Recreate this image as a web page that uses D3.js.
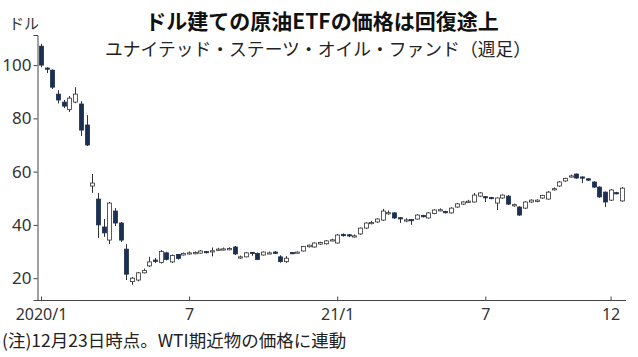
<!DOCTYPE html>
<html><head><meta charset="utf-8">
<script src="https://cdn.jsdelivr.net/npm/d3@7"></script>
<style>
body{margin:0;background:#fff}
svg{display:block}
.tk text{font-family:"Liberation Sans Narrow","Noto Sans",sans-serif;fill:#333}
</style>
</head><body>
<svg id="c" width="638" height="357"></svg>
<script>
// Weekly candles, week starting Mondays from 2020-01-06 to 2021-12-20
const weeks = d3.timeMonday.range(new Date(2020,0,6), new Date(2021,11,21));

const openV = [107.1,98.9,98.1,89.1,86.1,83.3,86.1,85.4,77.5,54.6,
  49.7,39.2,34.3,45.2,40.7,30.9,18.7,19.3,22.0,24.6,
  26.8,25.9,29.5,26.1,28.9,28.7,29.3,29.4,29.4,30.0,
  29.9,30.7,30.8,30.9,31.7,27.8,28.0,29.7,29.3,28.7,
  29.3,29.8,28.0,26.2,29.6,29.5,30.2,31.8,31.7,32.8,
  32.9,34.2,33.2,36.4,36.3,35.7,36.6,38.8,40.6,41.1,
  41.8,44.4,44.5,42.7,41.7,42.0,42.2,43.5,42.6,44.3,
  45.5,45.0,44.5,46.7,47.8,48.7,48.6,50.8,50.6,50.3,
  48.2,50.1,50.8,47.2,46.7,46.3,48.6,48.8,50.1,49.7,
  53.3,54.6,56.5,58.2,59.1,58.0,57.3,56.1,54.2,52.3,
  49.3,52.1,49.0];
const closeV = [100.0,98.6,91.7,86.9,84.6,87.6,89.1,75.6,70.0,55.7,
  40.0,37.0,48.2,40.7,34.3,21.5,20.0,22.0,22.9,26.1,
  26.3,30.0,27.0,28.5,27.4,29.3,29.5,29.6,30.2,29.7,
  30.3,30.9,31.0,31.1,29.1,28.0,29.5,29.5,27.0,29.8,
  29.5,29.3,26.2,27.5,29.4,29.8,31.9,32.4,33.2,33.4,
  34.0,34.4,36.2,36.0,35.9,35.9,38.8,40.7,40.9,42.2,
  45.2,44.6,42.6,42.5,41.9,41.6,43.7,43.2,44.5,45.6,
  45.7,44.7,46.3,47.9,48.6,48.9,51.2,52.0,50.4,49.9,
  50.1,51.2,47.8,47.6,43.7,48.6,49.3,49.3,51.0,52.3,
  53.6,56.1,57.4,58.4,57.6,57.7,56.8,54.2,50.5,48.6,
  53.1,51.8,53.8];
const highV = [108.0,99.2,98.4,90.6,86.9,88.4,91.7,86.5,81.2,59.1,
  52.0,42.2,48.6,46.3,41.1,32.8,20.5,22.3,23.6,28.0,
  27.6,30.6,29.9,28.9,29.1,29.6,30.0,30.1,30.5,30.2,
  31.5,31.4,31.5,31.6,32.1,28.5,29.8,29.8,29.6,30.0,
  30.0,30.2,28.6,28.3,29.8,30.0,32.1,32.6,33.4,33.7,
  34.3,34.8,36.6,36.8,36.6,36.4,39.0,41.0,41.5,42.5,
  46.0,45.4,44.8,42.9,42.5,42.2,44.0,43.8,44.8,45.9,
  46.2,45.3,46.6,48.2,48.9,49.4,52.0,52.3,50.8,50.5,
  50.3,51.4,51.2,48.0,47.0,48.9,49.6,49.6,51.3,52.7,
  54.1,56.4,57.7,58.9,59.3,58.2,57.5,56.4,54.5,52.6,
  53.4,52.4,54.2];
const lowV = [99.2,97.0,91.0,85.6,83.9,82.4,85.7,73.4,69.6,52.0,
  35.1,35.5,32.8,39.6,33.6,19.3,17.5,18.8,21.8,24.2,
  25.7,25.5,26.7,25.7,27.0,28.5,28.9,29.0,29.2,29.3,
  28.2,30.3,30.4,30.5,28.7,27.3,27.8,28.4,26.8,28.5,
  29.0,29.1,25.8,25.7,29.0,29.3,30.0,31.5,31.5,32.5,
  32.6,33.9,33.0,35.6,35.4,35.3,36.3,38.5,40.2,40.8,
  41.5,43.8,42.3,40.7,41.0,40.0,42.0,42.8,42.4,44.0,
  45.1,44.3,44.3,46.4,47.5,48.2,48.4,50.5,48.6,49.6,
  45.6,49.8,47.5,46.8,43.4,46.0,48.3,48.5,49.8,49.5,
  52.9,54.3,56.2,57.8,57.3,55.7,56.5,53.9,50.2,46.7,
  49.0,51.5,48.7];

const yTicks = [20,40,60,80,100];
const xTickDates = ["2020-01-06","2020-07-06","2021-01-04","2021-07-05","2021-12-06"];
const xTickLabels = ["2020/1","7","21/1","7","12"];

const svg = d3.select("#c");
const fmt = d3.timeFormat("%Y-%m-%d");
const keys = weeks.map(fmt);

const x = d3.scalePoint().domain(keys).range([41, 622]);
const y = d3.scaleLinear().domain([11.8, 111.3]).range([300, 35]);

// Axes
const yAx = svg.append("g").attr("class","tk").attr("transform","translate(37.5,0)")
  .call(d3.axisLeft(y).tickValues(yTicks).tickSizeOuter(0).tickSize(4).tickPadding(2));
yAx.select(".domain").attr("stroke","#444");
yAx.selectAll(".tick line").attr("stroke","#444");
yAx.selectAll("text").attr("font-size",17);

const xAx = svg.append("g").attr("class","tk").attr("transform","translate(0,300.5)")
  .call(d3.axisBottom(x).tickValues(xTickDates).tickSize(-4).tickPadding(8)
    .tickFormat((d,i)=>xTickLabels[i]));
xAx.select(".domain").remove();
xAx.selectAll(".tick line").attr("stroke","#444");
xAx.selectAll("text").attr("font-size",16);
svg.append("line").attr("x1",37.5).attr("x2",626).attr("y1",300.5).attr("y2",300.5)
  .attr("stroke","#444");

// Candles
const data = keys.map((k,i)=>({k,o:openV[i],c:closeV[i],h:highV[i],l:lowV[i]}));
const g = svg.append("g");
const bw = 4;
g.selectAll("line.w").data(data).join("line").attr("class","w")
  .attr("x1",d=>Math.round(x(d.k))+0.5).attr("x2",d=>Math.round(x(d.k))+0.5)
  .attr("y1",d=>y(d.h)).attr("y2",d=>y(d.l))
  .attr("stroke","#333").attr("stroke-width",1);
g.selectAll("rect").data(data).join("rect")
  .attr("x",d=>Math.round(x(d.k))+0.5-bw/2)
  .attr("width",bw)
  .attr("y",d=>y(Math.max(d.o,d.c)))
  .attr("height",d=>Math.max(1.2, y(Math.min(d.o,d.c))-y(Math.max(d.o,d.c))))
  .attr("fill",d=>d.c<d.o?"#1b2f52":"#fff")
  .attr("stroke",d=>d.c<d.o?"#1b2f52":"#333")
  .attr("stroke-width",0.8);

// Texts
const cjk = '"Noto Sans CJK JP",sans-serif';
svg.append("text").attr("x",322).attr("y",29).attr("text-anchor","middle")
  .attr("font-family",cjk).attr("font-weight","bold").attr("font-size",21).attr("fill","#111")
  .text("ドル建ての原油ETFの価格は回復途上");
svg.append("text").attr("x",318).attr("y",56).attr("text-anchor","middle")
  .attr("font-family",cjk).attr("font-size",17.8).attr("fill","#222")
  .text("ユナイテッド・ステーツ・オイル・ファンド（週足）");
svg.append("text").attr("x",9).attr("y",29)
  .attr("font-family",cjk).attr("font-size",15).attr("fill","#333")
  .text("ドル");
svg.append("text").attr("x",2).attr("y",347)
  .attr("font-family",cjk).attr("font-size",17.5).attr("fill","#222")
  .text("(注)12月23日時点。WTI期近物の価格に連動");
</script>
</body></html>
